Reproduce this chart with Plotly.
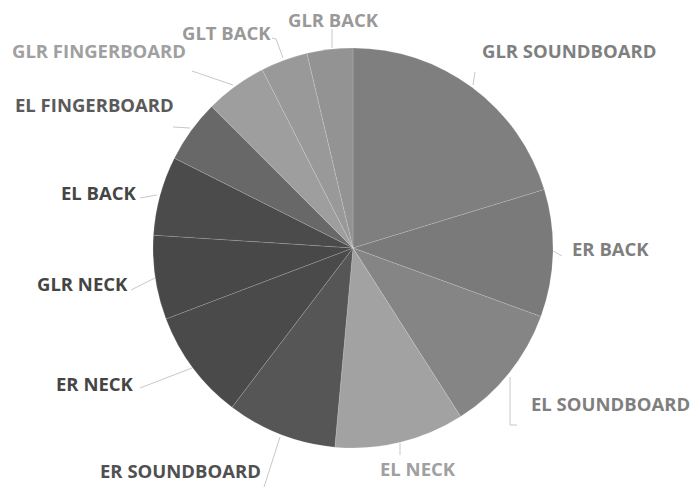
import plotly.graph_objects as go

W, H = 698, 488
OFF = 8  # page body margin offset

labels = ["GLR SOUNDBOARD", "ER BACK", "EL SOUNDBOARD", "EL NECK", "ER SOUNDBOARD",
          "ER NECK", "GLR NECK", "EL BACK", "EL FINGERBOARD", "GLR FINGERBOARD",
          "GLT BACK", "GLR BACK"]
values = [20.3, 10.3, 10.4, 10.5, 8.9, 8.9, 6.8, 6.4, 5.1, 5.0, 3.8, 3.7]
colors = ["#7f7f7f", "#7a7a7a", "#858585", "#a2a2a2", "#565656",
          "#4a4a4a", "#484848", "#4b4b4b", "#686868", "#9e9e9e",
          "#999999", "#939393"]
label_colors = ["#7f7f7f", "#7f7f7f", "#7f7f7f", "#a0a0a0", "#505050",
                "#454545", "#454545", "#454545", "#5a5a5a", "#a0a0a0",
                "#999999", "#999999"]

# label placement (page pixel coords: text center x, center y) and leader lines
label_pos = {
    "GLR SOUNDBOARD": (569, 50),
    "ER BACK": (610, 248),
    "EL SOUNDBOARD": (610, 403),
    "EL NECK": (418, 468),
    "ER SOUNDBOARD": (180, 470),
    "ER NECK": (95, 383),
    "GLR NECK": (82, 283),
    "EL BACK": (99, 192),
    "EL FINGERBOARD": (94, 105),
    "GLR FINGERBOARD": (99, 50),
    "GLT BACK": (226, 32),
    "GLR BACK": (333, 19),
}
leaders = {
    "GLR SOUNDBOARD": [(475, 72), (473, 85)],
    "ER BACK": [(553, 251), (562, 256)],
    "EL SOUNDBOARD": [(510, 377), (510, 425), (517, 425)],
    "EL NECK": [(400, 443), (400, 455)],
    "ER SOUNDBOARD": [(280, 437), (264, 487)],
    "ER NECK": [(192, 368), (140, 388)],
    "GLR NECK": [(155, 278), (131, 290)],
    "EL BACK": [(157, 195), (140, 198)],
    "EL FINGERBOARD": [(190, 128), (173, 127)],
    "GLR FINGERBOARD": [(233, 85), (192, 71)],
    "GLT BACK": [(283, 58), (276, 39), (272, 38)],
    "GLR BACK": [(332, 48), (332, 29)],
}

cx, cy, r = 353 - OFF, 248 - OFF, 200


def px(x):
    return (x - OFF) / W


def py(y):
    return 1 - (y - OFF) / H


fig = go.Figure(go.Pie(
    labels=labels,
    values=values,
    sort=False,
    direction="clockwise",
    rotation=0,
    marker=dict(colors=colors, line=dict(color="rgba(255,255,255,0.25)", width=0.6)),
    textinfo="none",
    hoverinfo="label+value",
    showlegend=False,
    domain=dict(x=[(cx - r) / W, (cx + r) / W], y=[(H - cy - r) / H, (H - cy + r) / H]),
))

annotations = []
for lab, col in zip(labels, label_colors):
    x, y = label_pos[lab]
    annotations.append(dict(
        x=px(x), y=py(y), xref="paper", yref="paper",
        text=lab, showarrow=False, xanchor="center", yanchor="middle",
        font=dict(family="Open Sans", size=18.5, color=col, weight=700),
        borderpad=0,
    ))

shapes = []
for lab, pts in leaders.items():
    path = "M " + " L ".join(f"{px(a)},{py(b)}" for a, b in pts)
    shapes.append(dict(type="path", path=path, xref="paper", yref="paper",
                       line=dict(color="#c8c8c8", width=1)))

fig.update_layout(
    width=W, height=H,
    margin=dict(l=0, r=0, t=0, b=0),
    paper_bgcolor="white",
    plot_bgcolor="white",
    annotations=annotations,
    shapes=shapes,
)

fig.write_html("out.html")
